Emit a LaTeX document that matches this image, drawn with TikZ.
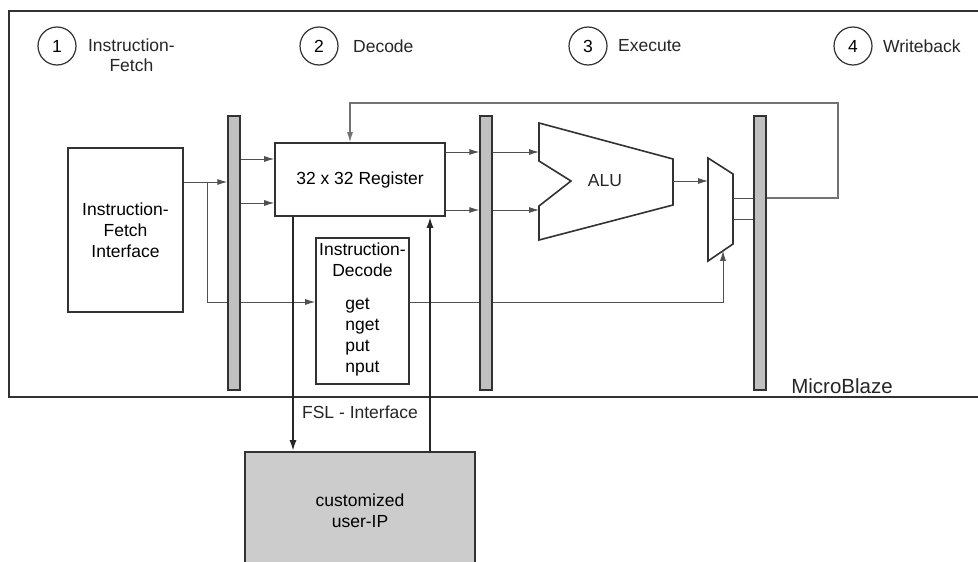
\documentclass[tikz,border=0pt]{standalone}
\usepackage{fontspec}
\setmainfont{Liberation Sans}
\usetikzlibrary{arrows.meta,positioning,calc}
\definecolor{mbline}{RGB}{50,50,50}
\definecolor{mbwire}{RGB}{80,80,80}
\definecolor{mbloop}{RGB}{115,115,115}
\definecolor{mbbar}{RGB}{192,192,192}
\definecolor{mbip}{RGB}{204,204,204}
\tikzset{
  block/.style={
    draw=mbline,
    line width=1.6pt,
    fill=white,
    align=center,
    inner sep=0pt,
    font=\fontsize{17.5}{21}\selectfont
  },
  stagebar/.style={
    draw=mbline,
    line width=1.4pt,
    fill=mbbar,
    minimum width=12pt,
    minimum height=274pt,
    inner sep=0pt
  },
  stagenum/.style={
    circle,
    draw=mbline,
    line width=1.2pt,
    minimum size=38pt,
    inner sep=0pt,
    font=\fontsize{17.5}{20}\selectfont
  },
  stagelabel/.style={
    align=center,
    text=black!85,
    font=\fontsize{17.5}{20}\selectfont
  },
  unit/.style={draw=mbline,line width=1.6pt,fill=white,line join=miter},
  wire/.style={line width=0.9pt,mbwire},
  arr/.style={-{Latex[length=10pt,width=6pt]},line width=0.9pt,mbwire},
  looparr/.style={-{Latex[length=10pt,width=6pt]},line width=1.1pt,mbloop},
  fslarr/.style={-{Latex[length=11pt,width=7pt]},line width=2pt,black!85}
}
\begin{document}
\begin{tikzpicture}[x=1pt,y=-1pt]
  \clip (0,0) rectangle (978,562);
  \fill[white] (0,0) rectangle (978,562);
  % MicroBlaze frame
  \draw[draw=mbline,line width=1.5pt] (978,11) -| (9,397) -- (978,397);
  \node[stagelabel,font=\fontsize{20.5}{24}\selectfont] (mblabel) at (842,386) {MicroBlaze};

  % pipeline stages
  \node[stagenum] (st1) at (57,46) {1};
  \node[stagenum] (st2) at (319,46) {2};
  \node[stagenum] (st3) at (588,46) {3};
  \node[stagenum] (st4) at (853,46) {4};
  \node[stagelabel,right=8pt of st1,yshift=-9pt] (lab1) {Instruction-\\Fetch};
  \node[stagelabel,right=11pt of st2] (lab2) {Decode};
  \node[stagelabel,right=7pt of st3] (lab3) {Execute};
  \node[stagelabel,right=7pt of st4] (lab4) {Writeback};

  % blocks
  \node[block,minimum width=115pt,minimum height=164pt] (ifbox) at (125.5,230) {Instruction-\\Fetch\\Interface};
  \node[block,minimum width=170pt,minimum height=73pt] (regfile) at (360,179.5) {32 x 32 Register};
  \node[block,minimum width=93pt,minimum height=146pt] (idbox) at (362.5,311)
    {Instruction-\\Decode\\[12pt]\begin{tabular}[t]{@{}l@{}}get\\nget\\put\\nput\end{tabular}};
  \node[block,fill=mbip,minimum width=230pt,minimum height=118pt] (userip) at (360,511) {customized\\user-IP};
  \node[stagelabel] (fsl) at (360,412) {FSL - Interface};

  \node[stagebar] (barA) at (234,253) {};
  \node[stagebar] (barB) at (486,253) {};
  \node[stagebar] (barC) at (760,253) {};

  % ALU and mux
  \draw[unit] (539,123) -- (673,159) -- (673,205) -- (539,240) -- (539,206) -- (571,181) -- (539,161) -- cycle;
  \node[stagelabel] (alulabel) at (605,181) {ALU};
  \coordinate (alu-out) at (673,181);
  \coordinate (mux-tl) at (708,158);
  \coordinate (mux-tr) at (733,174);
  \coordinate (mux-br) at (733,244);
  \coordinate (mux-bl) at (708,261);
  \draw[unit] (mux-tl) -- (mux-tr) -- (mux-br) -- (mux-bl) -- cycle;
  \coordinate (mux-sel) at ($(mux-bl)!0.6!(mux-br)$);

  % fetch
  \draw[arr] (ifbox.east |- 0,182) -- (barA.west |- 0,182);
  \coordinate (fork) at (207,182);
  \draw[wire] (fork) |- (barA.west |- 0,302);
  \draw[arr] (barA.east |- 0,302) -- (idbox.west |- 0,302);
  \draw[arr] (barA.east |- 0,159) -- (regfile.west |- 0,159);
  \draw[arr] (barA.east |- 0,203) -- (regfile.west |- 0,203);

  % decode / execute
  \draw[arr] (regfile.east |- 0,152) -- (barB.west |- 0,152);
  \draw[arr] (regfile.east |- 0,210) -- (barB.west |- 0,210);
  \draw[arr] (barB.east |- 0,152) -- (539,152);
  \draw[arr] (barB.east |- 0,210) -- (539,210);
  \draw[arr] (alu-out) -- (mux-tl |- alu-out);
  \draw[wire] (idbox.east |- 0,302) -- (barB.west |- 0,302);
  \draw[arr] (barB.east |- 0,302) -| (mux-sel);

  % writeback
  \draw[wire] (mux-tr |- 0,198) -- (barC.west |- 0,198);
  \draw[wire] (mux-tr |- 0,219) -- (barC.west |- 0,219);
  \draw[looparr] (barC.east |- 0,198) -| (838,103) -| (regfile.north -| 350,0);

  % FSL
  \draw[fslarr] (regfile.south -| 293,0) -- (userip.north -| 293,0);
  \draw[fslarr] (userip.north -| 430,0) -- (regfile.south -| 430,0);
\end{tikzpicture}
\end{document}
